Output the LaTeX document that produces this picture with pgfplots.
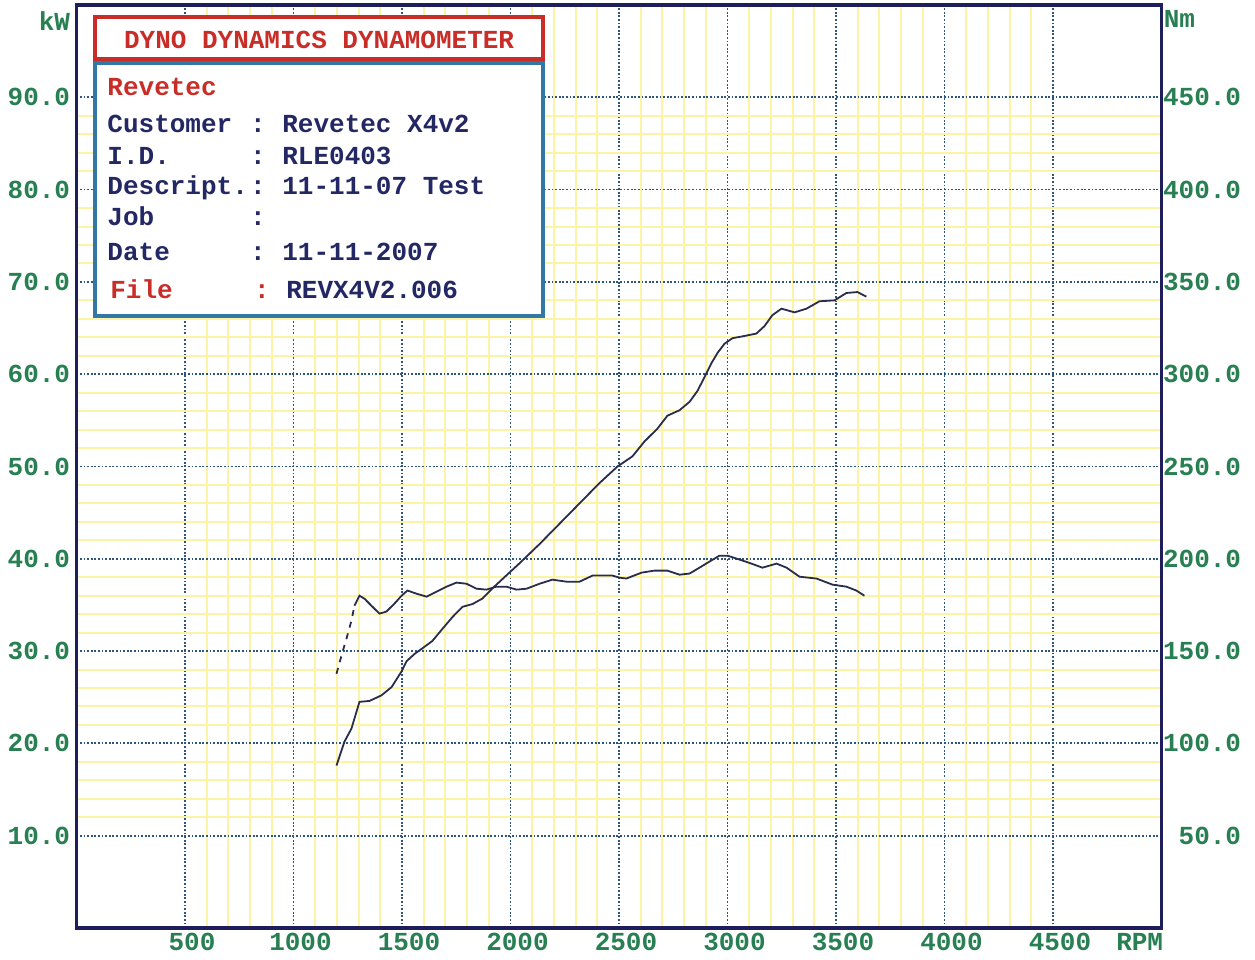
\documentclass[border=0pt]{standalone}
\usepackage{fontspec}
\usepackage{pgfplots}
\pgfplotsset{compat=1.18}
\newfontfamily\dyno{Liberation Mono}
\definecolor{lblgreen}{RGB}{40,128,82}
\definecolor{dred}{RGB}{200,45,40}
\definecolor{boxblue}{RGB}{50,120,165}
\definecolor{navytext}{RGB}{35,40,100}
\definecolor{axnavy}{RGB}{30,30,90}
\definecolor{majgrid}{RGB}{45,85,125}
\definecolor{mingrid}{RGB}{252,243,165}
\definecolor{curve}{RGB}{40,45,75}
\newcommand{\dfont}{\dyno\bfseries\fontsize{13}{16}\selectfont}
\tikzset{info/.style={inner sep=0pt, font=\dfont, text height=9pt, text depth=3pt, yshift=-2pt}}
\begin{document}
\begin{tikzpicture}
\pgfplotsset{
  dynoaxis/.style={
    scale only axis, width=542.5pt, height=461.5pt,
    xmin=0, xmax=5000,
    major tick length=0pt, minor tick length=0pt,
    ticklabel style={font=\dfont, text=lblgreen},
  }
}
\begin{axis}[dynoaxis,
  ymin=0, ymax=100,
  axis line style={axnavy, line width=1.6pt},
  xtick={500,1000,1500,2000,2500,3000,3500,4000,4500},
  xticklabels={500,1000,1500,2000,2500,3000,3500,4000,4500},
  ytick={10,20,30,40,50,60,70,80,90},
  yticklabels={10.0,20.0,30.0,40.0,50.0,60.0,70.0,80.0,90.0},
  minor x tick num=4, minor y tick num=4,
  grid=both,
  minor grid style={mingrid, line width=1pt},
  major grid style={majgrid, line width=0.9pt, dash pattern=on 0.9pt off 0.9pt},
  xticklabel style={anchor=center, yshift=-7pt, xshift=3.5pt},
  yticklabel style={anchor=east, inner sep=0pt, xshift=-3pt},
  clip=false,
]
\addplot[curve, line width=0.9pt] coordinates {
(1198,17.6) (1235,20.2) (1267,21.6) (1304,24.5) (1350,24.6) (1405,25.2)
(1452,26.1) (1498,27.8) (1521,28.9) (1558,29.7) (1594,30.3) (1640,31.1)
(1686,32.4) (1733,33.7) (1779,34.8) (1825,35.1) (1871,35.7) (1917,36.8)
(1981,38.2) (2041,39.5) (2134,41.6) (2226,43.8) (2318,46.0) (2410,48.2)
(2493,50.0) (2562,51.1) (2617,52.7) (2677,54.1) (2723,55.5) (2779,56.1)
(2825,57.0) (2862,58.2) (2903,60.1) (2926,61.2) (2954,62.3) (2986,63.3)
(3023,63.9) (3069,64.1) (3133,64.4) (3170,65.2) (3207,66.4) (3249,67.1)
(3309,66.7) (3364,67.1) (3424,67.9) (3493,68.0) (3548,68.8) (3599,68.9)
(3640,68.4)
};
% title box
\draw[dred, line width=2pt, fill=white] (axis cs:85,94.1) rectangle (axis cs:2150,98.7);
\node[info, anchor=center, text=dred] at (axis cs:1118,96.4) {DYNO DYNAMICS DYNAMOMETER};
% info box
\draw[boxblue, line width=2pt, fill=white] (axis cs:85,66.3) rectangle (axis cs:2150,93.7);
\node[info, anchor=west, text=dred] at (axis cs:141,91.3) {Revetec};
\node[info, anchor=west, text=navytext] at (axis cs:141,87.3) {Customer};
\node[info, anchor=west, text=navytext] at (axis cs:141,83.8) {I.D.};
\node[info, anchor=west, text=navytext] at (axis cs:141,80.5) {Descript.};
\node[info, anchor=west, text=navytext] at (axis cs:141,77.2) {Job};
\node[info, anchor=west, text=navytext] at (axis cs:141,73.4) {Date};
\node[info, anchor=west, text=dred] at (axis cs:154,69.3) {File};
\node[info, anchor=center, text=navytext] at (axis cs:836,87.3) {:};
\node[info, anchor=center, text=navytext] at (axis cs:836,83.8) {:};
\node[info, anchor=center, text=navytext] at (axis cs:836,80.5) {:};
\node[info, anchor=center, text=navytext] at (axis cs:836,77.2) {:};
\node[info, anchor=center, text=navytext] at (axis cs:836,73.4) {:};
\node[info, anchor=center, text=dred] at (axis cs:855,69.3) {:};
\node[info, anchor=west, text=navytext] at (axis cs:947,87.3) {Revetec X4v2};
\node[info, anchor=west, text=navytext] at (axis cs:947,83.8) {RLE0403};
\node[info, anchor=west, text=navytext] at (axis cs:947,80.5) {11-11-07 Test};
\node[info, anchor=west, text=navytext] at (axis cs:947,73.4) {11-11-2007};
\node[info, anchor=west, text=navytext] at (axis cs:965,69.3) {REVX4V2.006};
% axis unit labels
\node[anchor=east, inner sep=0pt, text=lblgreen, font=\dfont] at ([xshift=-3pt,yshift=-8pt]current axis.north west) {kW};
\node[anchor=west, inner sep=0pt, text=lblgreen, font=\dfont] at ([xshift=1pt,yshift=-7pt]current axis.north east) {Nm};
\node[anchor=east, inner sep=0pt, text=lblgreen, font=\dfont] at ([xshift=1pt,yshift=-7pt]current axis.south east) {RPM};
\end{axis}
\begin{axis}[dynoaxis,
  ymin=0, ymax=500,
  axis x line=none,
  axis y line*=right,
  y axis line style={axnavy, line width=1.6pt},
  ytick={50,100,150,200,250,300,350,400,450},
  yticklabels={50.0,100.0,150.0,200.0,250.0,300.0,350.0,400.0,450.0},
  yticklabel style={anchor=east, inner sep=0pt, xshift=40pt},
]
\addplot[curve, line width=0.9pt, dashed] coordinates {
(1198,137.7) (1221,147.5) (1244,156.7) (1267,166.5) (1281,174.6)
};
\addplot[curve, line width=0.9pt] coordinates {
(1281,174.6) (1304,180.0) (1327,178.4) (1359,174.6) (1396,170.3) (1428,171.4)
(1465,175.7) (1498,180.0) (1525,182.8) (1567,181.1) (1613,179.5) (1659,182.2)
(1705,184.9) (1751,187.1) (1797,186.5) (1843,183.8) (1889,183.3) (1935,184.9)
(1981,184.9) (2028,183.3) (2074,183.8) (2134,186.5) (2193,188.7) (2258,187.6)
(2318,187.6) (2378,190.9) (2470,190.9) (2502,189.8) (2534,189.3) (2604,192.5)
(2663,193.6) (2723,193.6) (2779,191.4) (2825,192.0) (2871,195.2) (2917,198.5)
(2963,201.7) (3000,201.7) (3055,199.6) (3110,197.4) (3161,195.2) (3226,197.4)
(3272,195.2) (3332,190.3) (3410,189.3) (3484,186.0) (3548,184.9) (3594,182.8)
(3631,180.0)
};
\end{axis}
\pgfresetboundingbox
\useasboundingbox ([shift={(-38.25pt,-16pt)}]current axis.south west) rectangle ++(627.5pt,480pt);
\end{tikzpicture}
\end{document}
